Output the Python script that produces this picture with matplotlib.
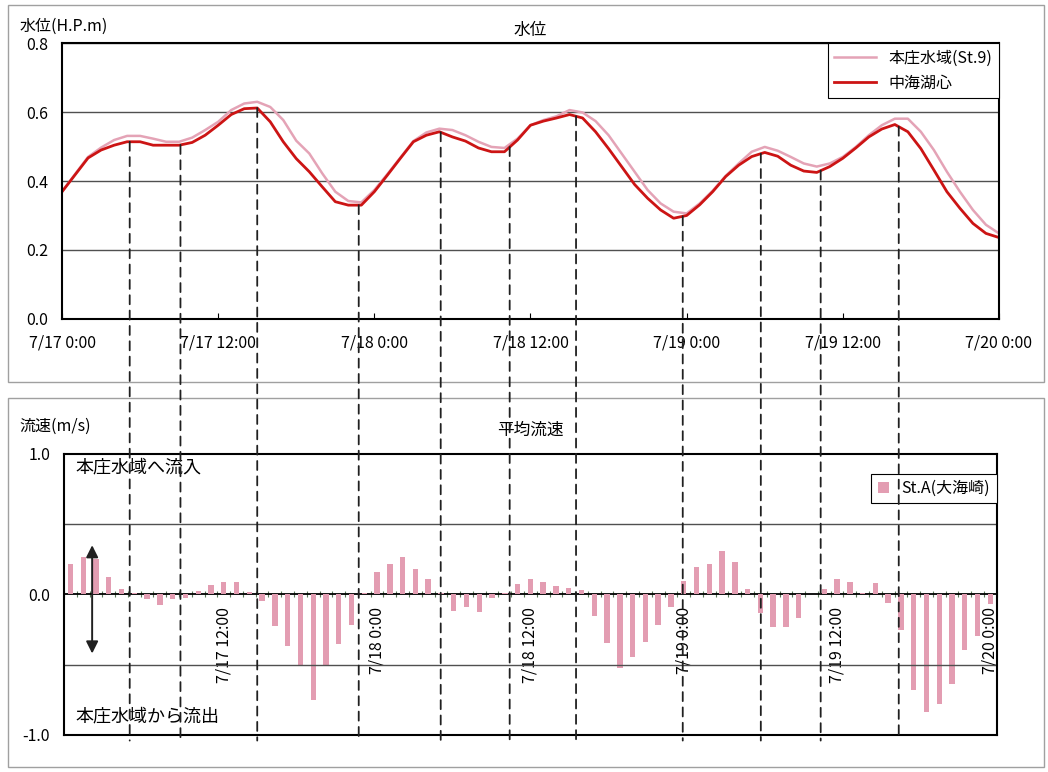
import numpy as np
import matplotlib
matplotlib.use("Agg")
import matplotlib.pyplot as plt
from matplotlib.patches import ConnectionPatch, Rectangle
from matplotlib.transforms import blended_transform_factory

plt.rcParams['font.family'] = ['Noto Sans CJK JP', 'DejaVu Sans']
plt.rcParams['axes.unicode_minus'] = False

# 時刻 (7/17 0:00 からの経過時間, 1時間毎)
hours = np.arange(73)

# 水位 本庄水域(St.9)
honjo = [0.369, 0.420, 0.470, 0.497, 0.519, 0.531, 0.531, 0.523, 0.514, 0.514,
         0.526, 0.548, 0.572, 0.606, 0.625, 0.630, 0.615, 0.577, 0.517, 0.480,
         0.422, 0.369, 0.342, 0.338, 0.374, 0.420, 0.468, 0.516, 0.541, 0.552,
         0.548, 0.533, 0.514, 0.499, 0.496, 0.523, 0.562, 0.577, 0.588, 0.606,
         0.599, 0.574, 0.533, 0.480, 0.427, 0.374, 0.335, 0.311, 0.306, 0.335,
         0.372, 0.415, 0.451, 0.485, 0.499, 0.488, 0.470, 0.451, 0.442, 0.451,
         0.470, 0.499, 0.533, 0.562, 0.581, 0.581, 0.543, 0.490, 0.427, 0.369,
         0.316, 0.273, 0.248]

# 水位 中海湖心
nakaumi = [0.369, 0.418, 0.467, 0.490, 0.504, 0.514, 0.514, 0.504, 0.504, 0.504,
           0.512, 0.533, 0.562, 0.593, 0.610, 0.612, 0.572, 0.514, 0.465, 0.427,
           0.383, 0.340, 0.330, 0.330, 0.369, 0.417, 0.466, 0.514, 0.533, 0.543,
           0.528, 0.516, 0.496, 0.485, 0.485, 0.519, 0.562, 0.574, 0.583, 0.593,
           0.583, 0.543, 0.494, 0.442, 0.390, 0.350, 0.316, 0.292, 0.300, 0.331,
           0.369, 0.413, 0.446, 0.471, 0.483, 0.472, 0.446, 0.429, 0.425, 0.442,
           0.466, 0.496, 0.528, 0.551, 0.564, 0.543, 0.494, 0.432, 0.369, 0.321,
           0.277, 0.248, 0.236]

# 平均流速 St.A(大海崎)
velocity = [0.22, 0.27, 0.25, 0.126, 0.04, 0.007, -0.036, -0.076, -0.036, -0.024,
            0.024, 0.067, 0.09, 0.09, 0.017, -0.048, -0.226, -0.37, -0.5, -0.75,
            -0.505, -0.355, -0.22, 0.01, 0.16, 0.217, 0.27, 0.18, 0.11, 0.01,
            -0.117, -0.088, -0.126, -0.024, 0.01, 0.074, 0.107, 0.086, 0.062, 0.043,
            0.031, -0.155, -0.345, -0.524, -0.445, -0.34, -0.214, -0.088, 0.098, 0.193,
            0.22, 0.312, 0.229, 0.038, -0.131, -0.231, -0.231, -0.171, 0.005, 0.036,
            0.11, 0.086, 0.01, 0.079, -0.06, -0.255, -0.683, -0.838, -0.783, -0.636,
            -0.393, -0.298, -0.071]

# 満潮・干潮の時刻 (破線)
event_hours = [5.2, 9.1, 15.0, 22.8, 29.1, 34.4, 39.5, 47.7, 53.7, 58.3, 64.3]

top_ticks = [0, 12, 24, 36, 48, 60, 72]
top_labels = ['7/17 0:00', '7/17 12:00', '7/18 0:00', '7/18 12:00',
              '7/19 0:00', '7/19 12:00', '7/20 0:00']
bot_ticks = [12, 24, 36, 48, 60, 72]
bot_labels = ['7/17 12:00', '7/18 0:00', '7/18 12:00',
              '7/19 0:00', '7/19 12:00', '7/20 0:00']

pink_line = '#e4a3b6'
red_line = '#cc1414'
bar_color = '#e39db2'

fig = plt.figure(figsize=(10.48, 7.72), dpi=100)

# パネル枠
for y0, h in [(0.505, 0.488), (0.006, 0.478)]:
    fig.add_artist(Rectangle((0.0076, y0), 0.989, h, transform=fig.transFigure,
                             fill=False, edgecolor='#a0a0a0', lw=1.0))

# ---- 水位 ----
ax1 = fig.add_axes([0.0592, 0.587, 0.894, 0.357])
ax1.plot(hours, honjo, color=pink_line, lw=1.8, label='本庄水域(St.9)')
ax1.plot(hours, nakaumi, color=red_line, lw=2.0, label='中海湖心')
ax1.set_xlim(0, 72)
ax1.set_ylim(0, 0.8)
ax1.set_yticks(np.arange(0, 0.81, 0.2))
ax1.set_yticklabels(['0.0', '0.2', '0.4', '0.6', '0.8'])
ax1.set_xticks(top_ticks)
ax1.set_xticklabels(top_labels)
ax1.tick_params(axis='x', direction='in', length=4, pad=11, labelsize=11.5)
ax1.tick_params(axis='y', length=0, pad=10, labelsize=11.5)
ax1.grid(axis='y', color='#505050', lw=1.0)
for s in ax1.spines.values():
    s.set_linewidth(1.5)
ax1.set_title('水位', fontsize=12, pad=6)
fig.text(0.019, 0.955, '水位(H.P.m)', fontsize=11.5, va='bottom')
leg1 = ax1.legend(loc='upper right', borderaxespad=0, fancybox=False,
                  edgecolor='black', fontsize=11.5, handlelength=2.6,
                  framealpha=1)
leg1.get_frame().set_linewidth(0.8)

# ---- 平均流速 ----
ax2 = fig.add_axes([0.0611, 0.048, 0.890, 0.364])
ax2.bar(hours, velocity, width=0.42, color=bar_color, label='St.A(大海崎)')
ax2.set_xlim(-0.5, 72.5)
ax2.set_ylim(-1.0, 1.0)
ax2.set_yticks([-1.0, 0.0, 1.0])
ax2.set_yticklabels(['-1.0', '0.0', '1.0'])
ax2.set_yticks([-0.5, 0.5], minor=True)
ax2.grid(axis='y', which='minor', color='#505050', lw=1.0)
ax2.tick_params(axis='y', which='both', length=0, pad=10, labelsize=11.5)
ax2.set_xticks([])
for s in ax2.spines.values():
    s.set_linewidth(1.5)
ax2.set_title('平均流速', fontsize=12, pad=14)
fig.text(0.019, 0.437, '流速(m/s)', fontsize=11.5, va='bottom')

# 0.0 の位置に置いた時刻軸
sec = ax2.secondary_xaxis(0.5)
sec.set_alignment('bottom')
sec.set_xticks(bot_ticks)
sec.set_xticklabels(bot_labels, rotation=90)
sec.set_xticks(np.arange(-0.5, 73, 1), minor=True)
sec.tick_params(which='major', length=0, pad=9, labelsize=11.5)
sec.tick_params(which='minor', direction='inout', length=5, color='#5a7a5a', width=0.8)
sec.spines['bottom'].set_linewidth(1.3)

leg2 = ax2.legend(loc='upper right', bbox_to_anchor=(1.0, 0.93), borderaxespad=0,
                  fancybox=False, edgecolor='black', fontsize=11.5,
                  handlelength=0.7, handleheight=0.7, framealpha=1)
leg2.get_frame().set_linewidth(0.8)

ax2.text(0.012, 0.985, '本庄水域へ流入', transform=ax2.transAxes, fontsize=13,
         va='top', ha='left')
ax2.text(0.012, 0.035, '本庄水域から流出', transform=ax2.transAxes, fontsize=13,
         va='bottom', ha='left')
ax2.annotate('', xy=(1.7, -0.44), xytext=(1.7, 0.37),
             arrowprops=dict(arrowstyle='<|-|>', color='#202020', lw=1.4,
                             mutation_scale=18))

# 破線 (上下のグラフを貫く)
event_levels = np.interp(event_hours, hours, nakaumi)
to_bottom = blended_transform_factory(ax1.transData, ax2.transAxes)
for t, lv in zip(event_hours, event_levels):
    con = ConnectionPatch(xyA=(t, lv), coordsA=ax1.transData,
                          xyB=(t, -0.02), coordsB=to_bottom,
                          color='#202020', lw=1.3, linestyle=(0, (5, 3.5)))
    fig.add_artist(con)

fig.savefig('out.png', dpi=100)
